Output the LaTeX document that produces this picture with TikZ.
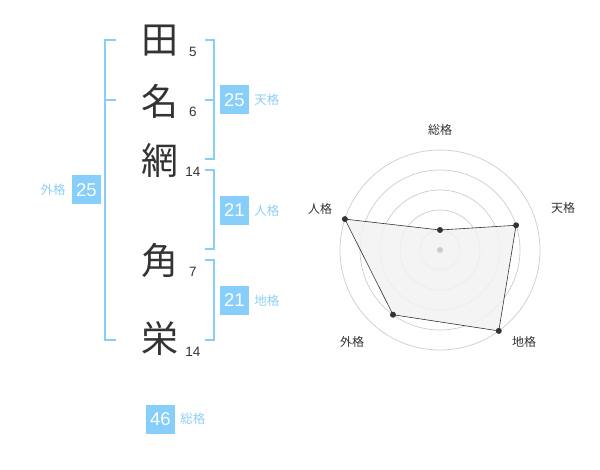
\documentclass[tikz,border=0pt]{standalone}
\usepackage{fontspec}
\setmainfont{Liberation Sans}
\newfontfamily\jp{Noto Sans CJK JP}
\usetikzlibrary{positioning, calc}
\definecolor{skyline}{HTML}{87CEFA}
\definecolor{skytext}{HTML}{8DCFF5}
\definecolor{inkdark}{HTML}{333333}
\definecolor{ringgray}{HTML}{CCCCCC}
\definecolor{areafill}{HTML}{F2F2F2}
\tikzset{
  kanji/.style={font=\jp\fontsize{37}{37}\selectfont, text=inkdark, inner sep=0pt},
  strokes/.style={font=\fontsize{13.5}{13.5}\selectfont, text=inkdark, inner sep=0pt},
  scorebox/.style={rectangle, fill=skyline, text=white, minimum size=29pt, inner sep=0pt,
    font=\fontsize{18.5}{18.5}\selectfont},
  kaku/.style={font=\jp\fontsize{12.5}{12.5}\selectfont, text=skytext, inner sep=0pt},
  bracket/.style={draw=skyline, line width=2pt},
  ring/.style={draw=ringgray, line width=0.7pt},
  axislabel/.style={font=\jp\fontsize{12}{12}\selectfont, text=inkdark, inner sep=0pt},
  dot/.style={circle, fill=inkdark, inner sep=0pt, minimum size=6pt}
}
\begin{document}
\begin{tikzpicture}[x=1pt, y=-1pt]
    \useasboundingbox (0,0) rectangle (600,470);
    
    % name
    \node[kanji] (k1) at (160,41) {田};
    \node[kanji] (k2) at (160,101) {名};
    \node[kanji] (k3) at (160,160) {網};
    \node[kanji] (k4) at (160,260) {角};
    \node[kanji] (k5) at (160,339) {栄};
    \node[strokes, anchor=base] (s1) at (193,57) {5};
    \node[strokes, anchor=base] (s2) at (193,117) {6};
    \node[strokes, anchor=base] (s3) at (193,177) {14};
    \node[strokes, anchor=base] (s4) at (193,277) {7};
    \node[strokes, anchor=base] (s5) at (193,357) {14};
    
    % brackets
    \draw[bracket] (116,40) -- (105,40) -- (105,340) -- (116,340);
    \draw[bracket] (105,100) -- (116,100);
    \draw[bracket] (205,40) -- (214,40) -- (214,159) -- (205,159);
    \draw[bracket] (205,100) -- (214,100);
    \draw[bracket] (205,170) -- (214,170) -- (214,249) -- (205,249);
    \draw[bracket] (205,260) -- (214,260) -- (214,340) -- (205,340);
    
    % scores
    \node[scorebox] (ten) at (234.5,100) {25};
    \node[kaku, right=5pt of ten] (tenl) {天格};
    \node[scorebox] (jin) at (234.5,210.5) {21};
    \node[kaku, right=5pt of jin] (jinl) {人格};
    \node[scorebox] (chi) at (234.5,300.5) {21};
    \node[kaku, right=5pt of chi] (chil) {地格};
    \node[scorebox] (gai) at (86.5,190) {25};
    \node[kaku, left=6pt of gai] (gail) {外格};
    \node[scorebox] (sou) at (160.5,419) {46};
    \node[kaku, right=5pt of sou] (soul) {総格};
    
    % radar
    \begin{scope}[shift={(440,250)}]
    \foreach \r in {20,40,60,80,100}
    \draw[ring] (0,0) circle[radius=\r];
    \coordinate (psou) at (-90:20);
    \coordinate (pten) at (-18:80);
    \coordinate (pchi) at (54:100);
    \coordinate (pgai) at (126:80);
    \coordinate (pjin) at (198:100);
    \draw[fill=areafill, fill opacity=0.85, draw=inkdark, line width=0.6pt]
    (psou) -- (pten) -- (pchi) -- (pgai) -- (pjin) -- cycle;
    \node[circle, fill=ringgray, inner sep=0pt, minimum size=6pt] (mid) at (0,0) {};
    \foreach \p in {psou,pten,pchi,pgai,pjin}
    \node[dot] at (\p) {};
    \end{scope}
    \node[axislabel] (asou) at (440,130) {総格};
    \node[axislabel] (aten) at (563,208) {天格};
    \node[axislabel] (ajin) at (320,209) {人格};
    \node[axislabel] (agai) at (352,342) {外格};
    \node[axislabel] (achi) at (524,342) {地格};
    
\end{tikzpicture}
\end{document}
